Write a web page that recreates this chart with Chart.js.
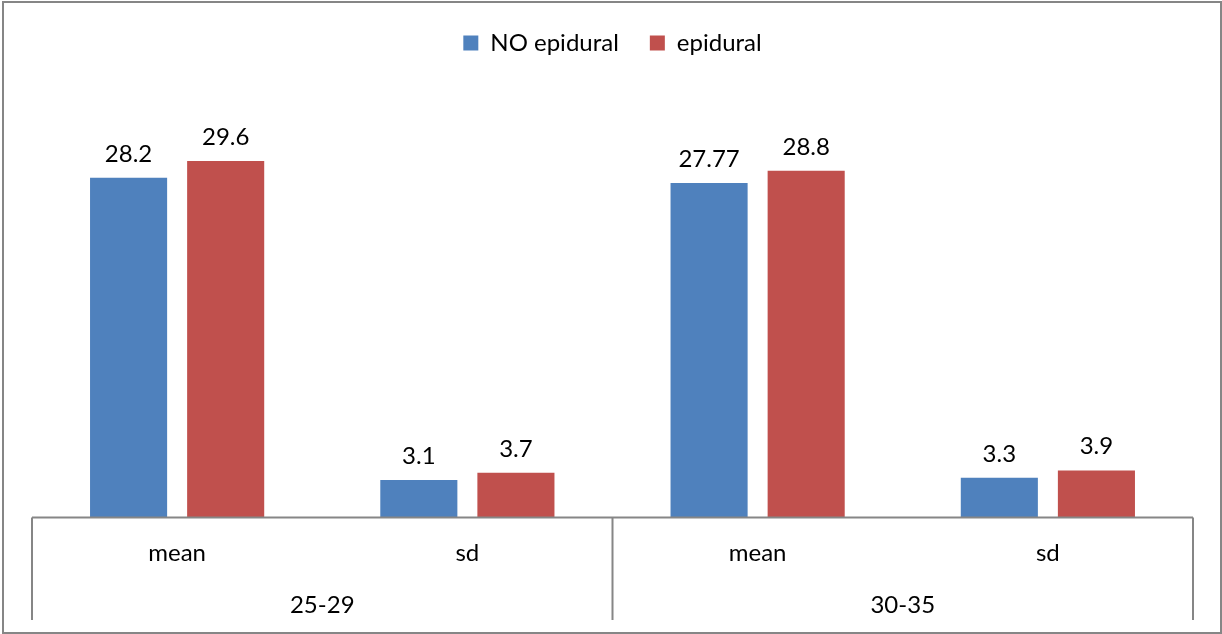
<!DOCTYPE html>
<html>
<head>
<meta charset="utf-8">
<script src="https://cdn.jsdelivr.net/npm/chart.js@4/dist/chart.umd.min.js"></script>
<style>
  html, body { margin: 0; padding: 0; background: #fff; }
  #wrap { width: 1222px; height: 634px; }
</style>
</head>
<body>
<div id="wrap"><canvas id="chart"></canvas></div>
<script>
/* ─── Data ───────────────────────────────────────────── */
const CATEGORIES  = ['mean', 'sd', 'mean', 'sd'];
const GROUPS      = ['25-29', '30-35'];
const NO_EPIDURAL = [28.2, 3.1, 27.77, 3.3];
const EPIDURAL    = [29.6, 3.7, 28.8, 3.9];
const SERIES      = ['NO epidural', 'epidural'];

const BLUE = '#4F81BD';
const RED  = '#C0504D';
const LINE = '#868686';
const FONT = "Lato, 'Open Sans', sans-serif";
const SIZE = 24;

Chart.defaults.font.family = FONT;
Chart.defaults.font.size = SIZE;
Chart.defaults.color = '#000';

/* ─── Frame, axis box and value labels ───────────────── */
const excelFrame = {
  id: 'excelFrame',
  beforeInit(chart) {
    // extra gap between legend and plot area, like Excel's
    const fit = chart.legend.fit;
    chart.legend.fit = function () { fit.call(this); this.height += 31; };
  },
  beforeDraw(chart) {
    const c = chart.ctx;
    c.save();
    c.fillStyle = '#fff';
    c.fillRect(0, 0, chart.width, chart.height);
    c.strokeStyle = LINE;
    c.lineWidth = 2;
    c.strokeRect(3, 2, chart.width - 4, 631);
    c.restore();
  },
  afterDatasetsDraw(chart) {
    const c = chart.ctx;
    c.save();
    c.font = SIZE + 'px ' + FONT;
    c.fillStyle = '#000';
    c.textAlign = 'center';
    c.textBaseline = 'alphabetic';
    chart.data.datasets.forEach((ds, i) => {
      chart.getDatasetMeta(i).data.forEach((bar, j) => {
        c.fillText(String(ds.data[j]), bar.x, bar.y - 16);
      });
    });
    c.restore();
  },
  afterDraw(chart) {
    const c = chart.ctx, a = chart.chartArea, x = chart.scales.x;
    const bottom = chart.scales.x2.bottom - 1;
    const mid = (x.getPixelForValue(1) + x.getPixelForValue(2)) / 2;
    c.save();
    c.strokeStyle = LINE;
    c.lineWidth = 2;
    c.beginPath();
    c.moveTo(a.left, a.bottom); c.lineTo(a.right, a.bottom);
    [a.left, mid, a.right].forEach(px => {
      c.moveTo(px, a.bottom); c.lineTo(px, bottom);
    });
    c.stroke();
    c.restore();
  }
};

/* ─── Chart ──────────────────────────────────────────── */
new Chart(document.getElementById('chart'), {
  type: 'bar',
  data: {
    labels: CATEGORIES,
    datasets: [
      { label: SERIES[0], data: NO_EPIDURAL, backgroundColor: BLUE },
      { label: SERIES[1], data: EPIDURAL, backgroundColor: RED }
    ]
  },
  options: {
    responsive: true, maintainAspectRatio: false, animation: false,
    categoryPercentage: 0.669, barPercentage: 0.794,
    layout: { padding: { top: 0, left: 32, right: 29, bottom: 13 } },
    plugins: {
      legend: {
        position: 'top',
        labels: { boxWidth: 15, boxHeight: 15, padding: 31, font: { size: SIZE } }
      },
      tooltip: { enabled: false }
    },
    scales: {
      x: {
        weight: 0,
        grid: { display: false, drawTicks: false },
        border: { display: false },
        ticks: { padding: 21.5, font: { size: SIZE }, color: '#000' }
      },
      x2: {
        type: 'category', labels: GROUPS, position: 'bottom', weight: 1, offset: true,
        grid: { display: false, drawTicks: false },
        border: { display: false },
        ticks: { padding: 1.5, font: { size: SIZE }, color: '#000' }
      },
      y: { display: false, min: 0, max: 35 }
    }
  },
  plugins: [excelFrame]
});
</script>
</body>
</html>
